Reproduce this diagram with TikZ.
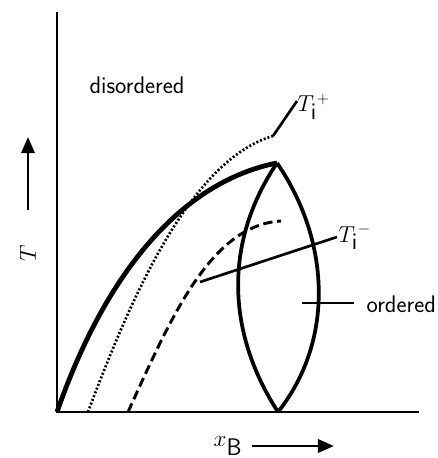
\documentclass[tikz,border=0pt]{standalone}
\usetikzlibrary{arrows.meta}
\tikzset{
  axisline/.style={line width=2pt},
  phaseline/.style={line width=2.8pt},
  leader/.style={line width=2pt},
  lbl/.style={inner sep=1pt,font=\sffamily\fontsize{18}{21}\selectfont},
  bigarrow/.style={line width=2pt,-{Triangle[length=12pt,width=10pt]}}
}
\begin{document}
\begin{tikzpicture}[x=0.75pt,y=-0.75pt]
\useasboundingbox (0,0) rectangle (438,458);
% axes
\coordinate (origin) at (57,412);
\coordinate (ytop) at (57,12);
\coordinate (xend) at (419,412);
\draw[axisline] (ytop)--(origin)--(xend);
% lens of the ordered phase
\coordinate (top) at (277,163);
\coordinate (bot) at (278,412);
\draw[phaseline] (top) .. controls (225,240) and (225,330) .. (bot);
\draw[phaseline] (top) .. controls (330,240) and (335,340) .. (bot);
% boundary of the disordered phase
\draw[line width=3.6pt] (origin) .. controls (110,260) and (190,180) .. (top);
% T_i curves
\coordinate (dotstart) at (88,412);
\coordinate (dotend) at (273,136);
\draw[line width=2pt,dash pattern=on 1.5pt off 1.5pt] (dotstart) .. controls (130,300) and (190,160) .. (dotend);
\coordinate (dashstart) at (128,412);
\coordinate (dashend) at (281,221);
\draw[line width=2.2pt,dash pattern=on 7pt off 3.5pt] (dashstart) .. controls (170,320) and (210,225) .. (dashend);
% labels
\node[lbl,anchor=west] (dis) at (88,85) {disordered};
\node[lbl,anchor=south west] (tplus) at (296,121) {$T_{\textsf{i}}{}^{+}$};
\draw[leader] (dotend)--(297,101);
\node[lbl,anchor=west] (tminus) at (337,237) {$T_{\textsf{i}}{}^{-}$};
\coordinate (tmfoot) at (200,282);
\draw[leader] (tmfoot)--(tminus.west);
\coordinate (ordfoot) at (302,303);
\coordinate (ordend) at (354,303);
\node[lbl,anchor=west] (ord) at (365,304) {ordered};
\draw[leader] (ordfoot)--(ordend);
% axis arrows
\coordinate (tarrow) at (28,210);
\draw[bigarrow] (tarrow)--(28,137);
\node[lbl,rotate=90] (tlab) at (28,253) {$T$};
\node[lbl] (xlab) at (228,446) {$x_{\textsf{B}}$};
\draw[bigarrow] (xlab.east)++(8,0)--++(82,0);
\end{tikzpicture}
\end{document}
